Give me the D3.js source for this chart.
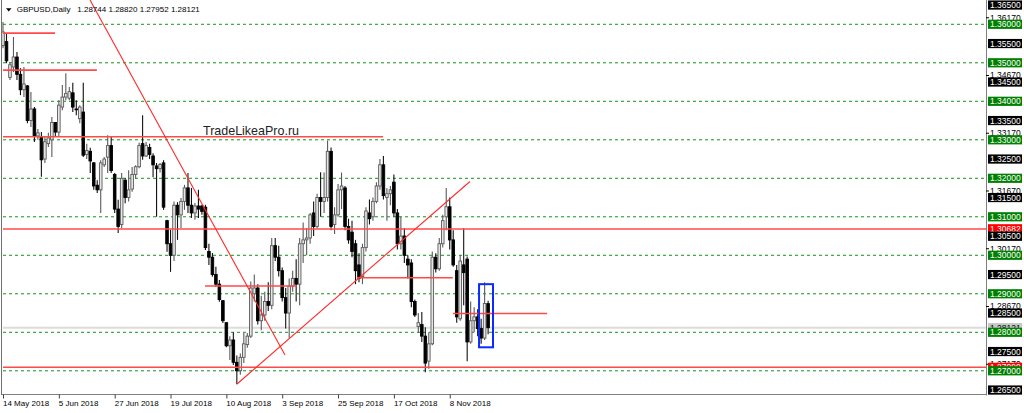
<!DOCTYPE html>
<html><head><meta charset="utf-8">
<script src="https://cdn.jsdelivr.net/npm/d3@7/dist/d3.min.js"></script>
<style>html,body{margin:0;padding:0;background:#fff;overflow:hidden}</style>
</head><body><svg id="c" width="1024" height="413"></svg>
<script>
// ---- data (daily GBPUSD, 14 May 2018 .. 23 Nov 2018) ----
const opens = [1.3545,1.3555,1.3462,1.3489,1.3515,1.3470,1.3430,1.3440,1.3350,1.3380,1.3310,1.3307,1.3250,1.3290,1.3300,1.3345,1.3320,1.3385,1.3411,1.3408,1.3422,1.3380,1.3355,1.3372,1.3262,1.3270,1.3240,1.3182,1.3170,1.3235,1.3255,1.3285,1.3210,1.3120,1.3080,1.3195,1.3150,1.3172,1.3210,1.3230,1.3290,1.3258,1.3280,1.3258,1.3232,1.3225,1.3240,1.3090,1.3030,1.3000,1.3130,1.3105,1.3140,1.3175,1.3130,1.3110,1.3128,1.3128,1.3125,1.3010,1.2995,1.2950,1.2925,1.2882,1.2825,1.2765,1.2780,1.2722,1.2700,1.2735,1.2768,1.2790,1.2900,1.2915,1.2830,1.2845,1.2880,1.2870,1.3025,1.2995,1.2960,1.2890,1.2850,1.2920,1.2940,1.2925,1.3030,1.3040,1.3045,1.3110,1.3075,1.3150,1.3140,1.3150,1.3270,1.3080,1.3105,1.3170,1.3175,1.3075,1.3060,1.3030,1.2975,1.2945,1.3020,1.3110,1.3100,1.3140,1.3180,1.3235,1.3150,1.3160,1.3190,1.3110,1.3030,1.3050,1.2990,1.2980,1.2880,1.2815,1.2820,1.2790,1.2725,1.2770,1.2995,1.2965,1.3030,1.3100,1.3126,1.3040,1.2960,1.2835,1.2975,1.2990,1.2775,1.2830,1.2840,1.2810,1.2785,1.28744];
const highs = [1.3606,1.3577,1.3502,1.3567,1.3528,1.3486,1.3489,1.3442,1.3424,1.3385,1.3328,1.3320,1.3307,1.3318,1.3359,1.3346,1.3403,1.3442,1.3473,1.3437,1.3448,1.3403,1.3390,1.3448,1.3290,1.3279,1.3242,1.3195,1.3247,1.3255,1.3312,1.3307,1.3214,1.3144,1.3214,1.3200,1.3221,1.3229,1.3234,1.3292,1.3364,1.3294,1.3290,1.3265,1.3240,1.3240,1.3247,1.3092,1.3066,1.3140,1.3138,1.3149,1.3183,1.3214,1.3175,1.3136,1.3170,1.3131,1.3131,1.3030,1.3006,1.2970,1.2936,1.2884,1.2826,1.2790,1.2800,1.2740,1.2745,1.2798,1.2798,1.2932,1.2950,1.2925,1.2895,1.2905,1.2930,1.3045,1.3045,1.3025,1.2968,1.2915,1.2940,1.2960,1.2990,1.3045,1.3085,1.3070,1.3110,1.3140,1.3160,1.3216,1.3215,1.3298,1.3280,1.3125,1.3185,1.3215,1.3180,1.3095,1.3090,1.3040,1.3005,1.3030,1.3125,1.3145,1.3150,1.3190,1.3250,1.3258,1.3175,1.3180,1.3210,1.3120,1.3100,1.3070,1.3000,1.2990,1.2885,1.2850,1.2853,1.2813,1.2800,1.3010,1.3005,1.3045,1.3105,1.3175,1.3150,1.3065,1.2975,1.3000,1.3070,1.2997,1.2880,1.2865,1.2860,1.2835,1.2930,1.28820];
const lows = [1.3538,1.3499,1.3455,1.3476,1.3455,1.3416,1.3411,1.3343,1.3333,1.3294,1.3300,1.3204,1.3240,1.3281,1.3255,1.3307,1.3307,1.3377,1.3403,1.3403,1.3372,1.3364,1.3343,1.3255,1.3250,1.3214,1.3170,1.3162,1.3110,1.3229,1.3214,1.3214,1.3110,1.3058,1.3070,1.3135,1.3140,1.3165,1.3200,1.3226,1.3248,1.3255,1.3250,1.3203,1.3100,1.3215,1.3118,1.3009,1.2957,1.2985,1.3040,1.3071,1.3118,1.3110,1.3097,1.3092,1.3097,1.3105,1.3014,1.2975,1.2944,1.2918,1.2879,1.2824,1.2761,1.2728,1.2715,1.2665,1.2690,1.2720,1.2760,1.2785,1.2880,1.2820,1.2805,1.2830,1.2855,1.2860,1.2985,1.2945,1.2880,1.2810,1.2785,1.2905,1.2880,1.2870,1.2980,1.3000,1.3030,1.3050,1.3070,1.3100,1.3110,1.3140,1.3065,1.3055,1.3100,1.3120,1.3065,1.3030,1.2995,1.2925,1.2930,1.2925,1.3010,1.3080,1.3090,1.3135,1.3170,1.3145,1.3090,1.3130,1.3100,1.3015,1.3015,1.2980,1.2940,1.2865,1.2840,1.2798,1.2775,1.2696,1.2705,1.2766,1.2955,1.2960,1.3020,1.3065,1.3015,1.2970,1.2825,1.2830,1.2870,1.2725,1.2770,1.2800,1.2790,1.2770,1.2780,1.27952];
const closes = [1.3580,1.3505,1.3495,1.3515,1.3470,1.3430,1.3445,1.3350,1.3380,1.3310,1.3318,1.3248,1.3295,1.3305,1.3345,1.3320,1.3390,1.3411,1.3420,1.3425,1.3385,1.3378,1.3385,1.3260,1.3272,1.3245,1.3180,1.3170,1.3240,1.3250,1.3285,1.3220,1.3120,1.3075,1.3200,1.3150,1.3170,1.3210,1.3230,1.3285,1.3258,1.3285,1.3262,1.3235,1.3225,1.3236,1.3125,1.3030,1.3000,1.3130,1.3105,1.3140,1.3175,1.3130,1.3110,1.3128,1.3120,1.3114,1.3020,1.2995,1.2950,1.2925,1.2885,1.2830,1.2765,1.2780,1.2722,1.2700,1.2735,1.2770,1.2790,1.2915,1.2915,1.2830,1.2845,1.2880,1.2870,1.3025,1.2995,1.2960,1.2890,1.2850,1.2920,1.2940,1.2925,1.3030,1.3040,1.3045,1.3105,1.3075,1.3150,1.3140,1.3150,1.3270,1.3075,1.3105,1.3170,1.3180,1.3075,1.3040,1.3010,1.2960,1.2940,1.3020,1.3115,1.3095,1.3140,1.3180,1.3235,1.3155,1.3160,1.3170,1.3110,1.3030,1.3050,1.3000,1.2975,1.2880,1.2845,1.2825,1.2790,1.2720,1.2770,1.2995,1.2965,1.3030,1.3090,1.3126,1.3040,1.2975,1.2840,1.2985,1.2955,1.2775,1.2830,1.2840,1.2810,1.2785,1.2875,1.28121];

const tickBars = [0,16,32,48,64,80,96,112,128];
const tickLabels = ["14 May 2018","5 Jun 2018","27 Jun 2018","19 Jul 2018","10 Aug 2018","3 Sep 2018","25 Sep 2018","17 Oct 2018","8 Nov 2018"];

const greenLevels = [1.36,1.35,1.34,1.33,1.32,1.31,1.30,1.29,1.28,1.27];
const blackLabels = [1.365,1.355,1.345,1.335,1.325,1.315,1.305,1.295,1.285,1.275,1.265];
const scaleLabels = [1.3617,1.3467,1.3317,1.3167,1.3017,1.2867,1.2717];

// horizontal objects: [price, fromBar, toBar]
const redLevels = [[1.30682,0,282],[1.2709,0,282],[1.3308,0,108.9],[1.3577,0,14.9],[1.3481,0,26.9],[1.29203,57.9,84.2],[1.29418,101.4,128.9],[1.28488,128.9,155.9]];
// trend lines: [bar1, price1, bar2, price2]
const trendLines = [[24.93,1.36631,80.8,1.2741],[67.05,1.26657,133.8,1.31917]];
const boxRect = [136.4,1.2925,140.4,1.2761];
const bidPrice = 1.28121;
const headerValues = ["1.28744","1.28820","1.27952","1.28121"];

// ---- drawing ----
const svg = d3.select("#c");
const pL = 3, pR = 987.2, pT = 0, pB = 395;
const x = d3.scaleLinear().domain([0,282]).range([pL,pR]);
const y = d3.scaleLinear().domain([1.26371,1.36631]).range([pB,pT]);
const N = closes.length;

svg.append("defs").append("clipPath").attr("id","pc").append("rect")
  .attr("x",2).attr("y",0).attr("width",985).attr("height",395);
const plot = svg.append("g");

// grid
plot.selectAll("line.g").data(greenLevels).join("line")
  .attr("x1",pL).attr("x2",986).attr("y1",d=>y(d)).attr("y2",d=>y(d))
  .attr("stroke","#13931a").attr("stroke-width",1).attr("stroke-dasharray","3,3");

// bid line
plot.append("line").attr("x1",pL).attr("x2",986).attr("y1",y(bidPrice)).attr("y2",y(bidPrice))
  .attr("stroke","#dcdcdc").attr("stroke-width",2);

// candles
const bw = 2.6;
const cg = plot.append("g");
for (let i=0;i<N;i++){
  const bull = closes[i] >= opens[i];
  const cx = x(i);
  cg.append("line").attr("x1",cx).attr("x2",cx).attr("y1",y(highs[i])).attr("y2",y(lows[i]))
    .attr("stroke", bull ? "#5a5a5a" : "#111").attr("stroke-width",1.1);
  const y0 = y(Math.max(opens[i],closes[i])), y1 = y(Math.min(opens[i],closes[i]));
  cg.append("rect").attr("x",cx-bw/2).attr("y",y0).attr("width",bw).attr("height",Math.max(0.8,y1-y0))
    .attr("fill", bull ? "#e6e6e6" : "#000").attr("stroke", bull ? "#5a5a5a" : "#000").attr("stroke-width",0.9);
}

// red horizontal levels
plot.selectAll("line.r").data(redLevels).join("line")
  .attr("x1",d=>x(d[1])).attr("x2",d=>Math.min(986,x(d[2]))).attr("y1",d=>y(d[0])).attr("y2",d=>y(d[0]))
  .attr("stroke","#ff4a4a").attr("stroke-width",1.6);

// trend lines
plot.append("g").attr("clip-path","url(#pc)").selectAll("line").data(trendLines).join("line")
  .attr("x1",d=>x(d[0])).attr("y1",d=>y(d[1])).attr("x2",d=>x(d[2])).attr("y2",d=>y(d[3]))
  .attr("stroke","#ff2a2a").attr("stroke-width",1.1);

// blue rectangle
plot.append("rect").attr("x",x(boxRect[0])).attr("y",y(boxRect[1]))
  .attr("width",x(boxRect[2])-x(boxRect[0])).attr("height",y(boxRect[3])-y(boxRect[1]))
  .attr("fill","none").attr("stroke","#0a2cff").attr("stroke-width",2);

// watermark
svg.append("text").attr("x",203).attr("y",134.5).attr("font-family","Liberation Sans, Arial, sans-serif")
  .attr("font-size",13.5).attr("fill","#222").attr("textLength",96).attr("lengthAdjust","spacingAndGlyphs")
  .text("TradeLikeaPro.ru");

// frame
svg.append("line").attr("x1",1.5).attr("x2",1.5).attr("y1",0).attr("y2",395).attr("stroke","#707070").attr("stroke-width",1);
svg.append("line").attr("x1",986.5).attr("x2",986.5).attr("y1",0).attr("y2",395.5).attr("stroke","#808080").attr("stroke-width",1);

// x axis
const xAxis = d3.axisBottom(x).tickValues(tickBars).tickFormat((d,i)=>tickLabels[i]).tickSize(4).tickSizeOuter(0);
const gx = svg.append("g").attr("transform","translate(0,394.5)").call(xAxis);
gx.select(".domain").attr("d","M1.5,0H987").attr("stroke","#808080");
gx.selectAll(".tick line").attr("stroke","#404040");
gx.selectAll(".tick text").attr("text-anchor","start").attr("dx",-0.5).attr("y",6).attr("dy","0.71em")
  .attr("font-family","Liberation Sans, Arial, sans-serif").attr("font-size",8).attr("fill","#000");

// right price scale
const fmt = d3.format(".5f");
const ps = svg.append("g").attr("font-family","Liberation Sans, Arial, sans-serif").attr("font-size",8.5);
scaleLabels.forEach(p=>{
  ps.append("line").attr("x1",986).attr("x2",989).attr("y1",y(p)).attr("y2",y(p)).attr("stroke","#000");
  ps.append("text").attr("x",990).attr("y",y(p)).attr("dy","0.35em").attr("fill","#000").text(fmt(p));
});
function box(p, fill, txtFill, label){
  const yy = y(p);
  ps.append("rect").attr("x",988).attr("y",yy-4.6).attr("width",34).attr("height",9.2).attr("fill",fill);
  ps.append("text").attr("x",990).attr("y",yy).attr("dy","0.35em").attr("fill",txtFill).text(label || fmt(p));
}
box(1.2709,"#ff0000","#fff","1.27090");
box(bidPrice,"#c8c8c8","#000",headerValues[3]);
box(1.30682,"#ff0000","#fff");
blackLabels.forEach(p=>box(p,"#000","#fff"));
greenLevels.forEach(p=>box(p,"#008000","#fff"));
box(1.30682,"#ff0000","#fff");
box(1.305,"#000","#fff");

// header
const hd = svg.append("g").attr("font-family","Liberation Sans, Arial, sans-serif").attr("font-size",8).attr("fill","#000");
hd.append("path").attr("d","M6,8.3L11.5,8.3L8.75,11.5Z").attr("fill","#000");
hd.append("text").attr("x",16.7).attr("y",12).text("GBPUSD,Daily");
headerValues.forEach((v,i)=>hd.append("text").attr("x",77.3+i*31.2).attr("y",12).text(v));
</script></body></html>
